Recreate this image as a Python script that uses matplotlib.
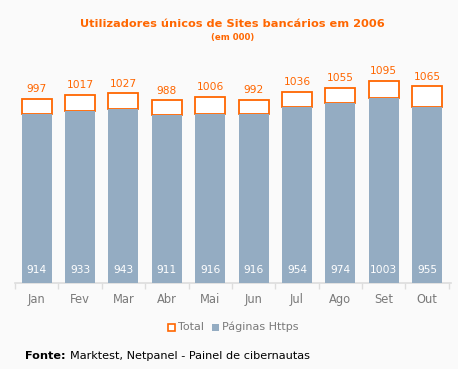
import matplotlib
matplotlib.use("Agg")
import matplotlib.pyplot as plt
from matplotlib.patches import Rectangle
import numpy as np

months = ["Jan", "Fev", "Mar", "Abr", "Mai", "Jun", "Jul", "Ago", "Set", "Out"]
total = [997, 1017, 1027, 988, 1006, 992, 1036, 1055, 1095, 1065]
https = [914, 933, 943, 911, 916, 916, 954, 974, 1003, 955]

ORANGE = "#ff6600"
BLUE = "#94acc2"
BG = "#fafafa"
GRAY = "#7a7a7a"

fig = plt.figure(figsize=(4.58, 3.69), dpi=100, facecolor=BG)
ax = fig.add_axes([15/458, (369-283)/369, (451-15)/458, 231/369], facecolor=BG)

x = np.arange(len(months))
w = 0.69
ax.bar(x, np.array(total) - np.array(https), bottom=https, width=w,
       color="white", edgecolor=ORANGE, linewidth=1.3, zorder=2)
ax.bar(x, https, width=w, color=BLUE, edgecolor="none", zorder=3)

for xi, t, h in zip(x, total, https):
    ax.text(xi, t + 25, str(t), ha="center", va="bottom", color=ORANGE, fontsize=7.7)
    ax.text(xi, 70, str(h), ha="center", va="center", color="white", fontsize=7.7, zorder=4)

ax.set_xlim(-0.5, len(months) - 0.45)
ax.set_ylim(0, 1250)
for s in ["top", "right", "left"]:
    ax.spines[s].set_visible(False)
ax.spines["bottom"].set_color("#dddddd")
ax.spines["bottom"].set_linewidth(1.2)
ax.set_yticks([])
ax.set_xticks(x)
ax.set_xticklabels(months, color=GRAY, fontsize=8.3)
ax.tick_params(axis="x", which="major", length=0, pad=7)
ax.set_xticks(np.arange(-0.5, len(months)), minor=True)
ax.tick_params(axis="x", which="minor", length=4, color="#dddddd", width=1)

fig.text(232/458, 1 - 24/369, "Utilizadores únicos de Sites bancários em 2006",
         ha="center", va="center", color=ORANGE, fontsize=8.2, fontweight="bold")
fig.text(233/458, 1 - 37.5/369, "(em 000)", ha="center", va="center",
         color=ORANGE, fontsize=6.2, fontweight="bold")

# legend
ly = 1 - 327/369
fig.patches.append(Rectangle((168/458, ly - 3.5/369), 7/458, 7/369, transform=fig.transFigure,
                             facecolor="white", edgecolor=ORANGE, linewidth=1.2))
fig.text(178/458, ly, "Total", ha="left", va="center", color=GRAY, fontsize=8)
fig.patches.append(Rectangle((212/458, ly - 3.5/369), 7/458, 7/369, transform=fig.transFigure,
                             facecolor=BLUE, edgecolor="none"))
fig.text(222/458, ly, "Páginas Https", ha="left", va="center", color=GRAY, fontsize=8)

fy = 1 - 356/369
fig.text(25/458, fy, "Fonte:", ha="left", va="center", color="black",
         fontsize=8.1, fontweight="bold")
fig.text(70/458, fy, "Marktest, Netpanel - Painel de cibernautas", ha="left", va="center",
         color="black", fontsize=8.1)

fig.savefig("out.png", dpi=100, facecolor=BG)
